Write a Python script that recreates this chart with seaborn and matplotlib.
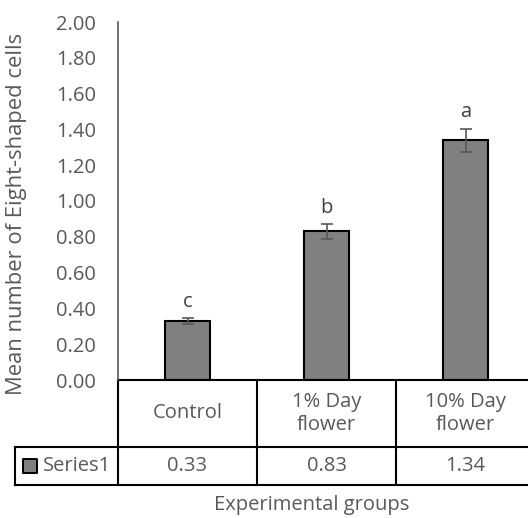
import matplotlib
matplotlib.use("Agg")
import matplotlib.pyplot as plt
import matplotlib.transforms as mtransforms
import numpy as np
import pandas as pd
import seaborn as sns

groups = ["Control", "1% Day\nflower", "10% Day\nflower"]
means = [0.33, 0.83, 1.34]
errors = [0.015, 0.04, 0.065]
letters = ["c", "b", "a"]
series_name = "Series1"
yticks = [0.0, 0.2, 0.4, 0.6, 0.8, 1.0, 1.2, 1.4, 1.6, 1.8, 2.0]

sns.set_theme(style="white")
plt.rcParams["font.family"] = ["Open Sans", "DejaVu Sans"]

W, H = 528, 518
FS = 14.5
fig = plt.figure(figsize=(W / 100, H / 100), dpi=100)
# plot area in pixels: x 118..535 (runs past the right edge, like the source), y 22..380
ax = fig.add_axes([118 / W, (H - 380) / H, (535 - 118) / W, 358 / H])

text_col = "#595959"
bar_col = "#808080"

df = pd.DataFrame({"group": groups, "mean": means})
sns.barplot(data=df, x="group", y="mean", color=bar_col, saturation=1,
            edgecolor="black", linewidth=1.5, width=0.32, ax=ax)
x = np.arange(len(groups))
ax.errorbar(x, means, yerr=errors, fmt="none", ecolor=text_col,
            elinewidth=1.2, capsize=4.5, capthick=1.2, zorder=5)
for xi, m, e, lab in zip(x, means, errors, letters):
    ax.text(xi, m + e + 0.09, lab, ha="center", va="center",
            fontsize=FS, color="#404040")

ax.set_xlim(-0.5, len(groups) - 0.5)
ax.set_ylim(0, 2.0)
ax.set_yticks(yticks)
ax.set_yticklabels([f"{t:.2f}" for t in yticks])
ax.tick_params(axis="y", length=0, pad=16, labelsize=FS, colors=text_col)
ax.set_xticks([])
ax.set_xlabel("")
ax.set_ylabel("")
for s in ["top", "right", "bottom"]:
    ax.spines[s].set_visible(False)
ax.spines["left"].set_color(text_col)
ax.spines["left"].set_linewidth(1.2)

# data table below the plot: x in data units, y in axes fraction
tr = mtransforms.blended_transform_factory(ax.transData, ax.transAxes)
row_top, row_mid, row_bot = 0.0, -0.187, -0.293
label_left = -0.5 - 103 / 139
edges = np.arange(len(groups) + 1) - 0.5
line_kw = dict(color="black", linewidth=1.5, transform=tr, clip_on=False,
               solid_capstyle="projecting")
ax.plot([edges[0], edges[-1]], [row_top, row_top], **line_kw)
ax.plot([label_left, edges[-1]], [row_mid, row_mid], **line_kw)
ax.plot([label_left, edges[-1]], [row_bot, row_bot], **line_kw)
ax.plot([label_left, label_left], [row_mid, row_bot], **line_kw)
for e in edges:
    ax.plot([e, e], [row_top, row_bot], **line_kw)

for xi, g, m in zip(x, groups, means):
    ax.text(xi, (row_top + row_mid) / 2, g, ha="center", va="center",
            fontsize=FS, color=text_col, transform=tr, linespacing=1.15)
    ax.text(xi, (row_mid + row_bot) / 2, f"{m:.2f}", ha="center", va="center",
            fontsize=FS, color=text_col, transform=tr)

# legend key + series name in the row-label cell
key_x = label_left + 15 / 139
ax.scatter([key_x], [(row_mid + row_bot) / 2], marker="s", s=95, color=bar_col,
           edgecolor="black", linewidth=1.4, transform=tr, clip_on=False, zorder=6)
ax.text(label_left + 28 / 139, (row_mid + row_bot) / 2, series_name, ha="left",
        va="center", fontsize=FS, color=text_col, transform=tr)

fig.text(312 / W, 1 - 505 / H, "Experimental groups", ha="center", va="center",
         fontsize=FS, color=text_col)
fig.text(17 / W, 1 - 214 / H, "Mean number of Eight-shaped cells", ha="center",
         va="center", rotation=90, fontsize=15.8, color=text_col)

fig.savefig("out.png", dpi=100)
